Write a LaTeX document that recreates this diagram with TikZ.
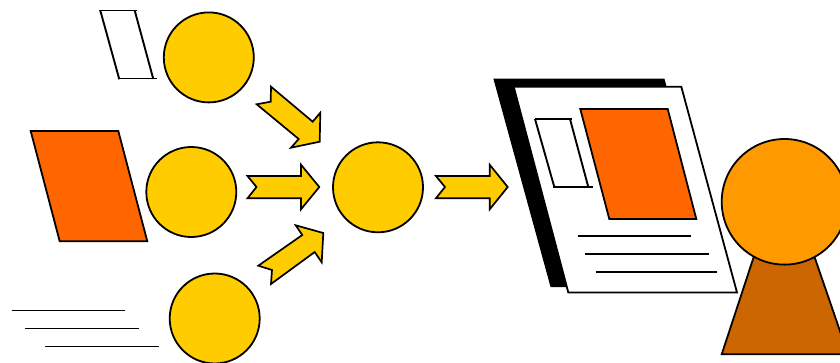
\documentclass[tikz,border=0pt]{standalone}
\definecolor{ballyellow}{HTML}{FFCC00}
\definecolor{sheetorange}{HTML}{FF6600}
\definecolor{headorange}{HTML}{FF9900}
\definecolor{bodybrown}{HTML}{CC6600}
\tikzset{
  outline/.style={draw=black,line width=1.8pt,line join=miter},
  ball/.style={outline,fill=ballyellow},
  flowarrow/.style={outline,fill=ballyellow,line width=1.7pt},
  sheet/.style={outline,fill=sheetorange},
  thinline/.style={draw=black,line width=1.9pt}
}
\begin{document}
\begin{tikzpicture}[x=1pt,y=-1pt]
\useasboundingbox (0,0) rectangle (840,362);
% left sources
\draw[thinline] (100.3,10.5) -- (119.3,79.3);
\draw[thinline] (134.7,10.5) -- (153.3,79);
\draw[thinline] (99,10.5) -- (136.7,10.5);
\draw[thinline] (118.7,78.5) -- (156.7,78.5);
\draw[sheet] (30.7,131) -- (118.3,131) -- (147.3,241.3) -- (59.7,241.3) -- cycle;
\draw[thinline] (11.7,310.5) -- (125,310.5);
\draw[thinline] (25.3,328.5) -- (138.7,328.5);
\draw[thinline] (45.3,346.5) -- (159,346.5);
% circles
\draw[ball] (208.8,57.4) circle[radius=45];
\draw[ball] (191.3,192) circle[radius=45];
\draw[ball] (214.7,318.5) circle[radius=45];
\draw[ball] (378,187.3) circle[radius=45];
% arrows
\draw[flowarrow] (271,86.7) -- (312.7,121.7) -- (320.3,112.7) -- (319.7,141.7) -- (291,147.7) -- (298.7,139) -- (256.7,104.3) -- (270.7,101.7) -- cycle;
\draw[flowarrow] (247.5,176) -- (301,176) -- (301,164.7) -- (319.3,187) -- (301,209.3) -- (301,198.3) -- (247.5,198.3) -- (256.5,187) -- cycle;
\draw[flowarrow] (295.7,225.3) -- (323.3,233) -- (321.7,262.3) -- (314.7,252) -- (271,284) -- (272,270) -- (258.3,265.7) -- (302.3,235) -- cycle;
\draw[flowarrow] (435.9,176) -- (489.7,176) -- (489.7,164.7) -- (507.7,187) -- (489.7,209.3) -- (489.7,198.3) -- (435.9,198.3) -- (445,187) -- cycle;
% document
\fill[black,draw=black,line width=1pt] (494,79) -- (664,79) -- (720,286.7) -- (551,286.7) -- cycle;
\draw[outline,fill=white] (513.7,86.7) -- (681.3,86.7) -- (737,292.5) -- (568.3,292.5) -- cycle;
\draw[thinline] (535,119) -- (554.3,187);
\draw[thinline] (570,119) -- (588.3,187);
\draw[thinline] (534.7,119.2) -- (572.3,119.2);
\draw[thinline] (553.3,187.2) -- (592.7,187.2);
\draw[sheet] (580.3,109) -- (667.7,109) -- (696.3,219) -- (609.3,219) -- cycle;
\draw[thinline] (577.7,235.9) -- (691.3,235.9);
\draw[thinline] (585,253.9) -- (708.7,253.9);
\draw[thinline] (595.7,272.4) -- (708,272.4);
\draw[thinline] (603,271.8) -- (716.7,271.8);
% person
\draw[outline,fill=bodybrown] (759.3,240) -- (808.7,240) -- (848,354.3) -- (721.7,354.3) -- cycle;
\draw[outline,fill=headorange] (784.5,201.8) circle[radius=62.8];
\end{tikzpicture}
\end{document}
